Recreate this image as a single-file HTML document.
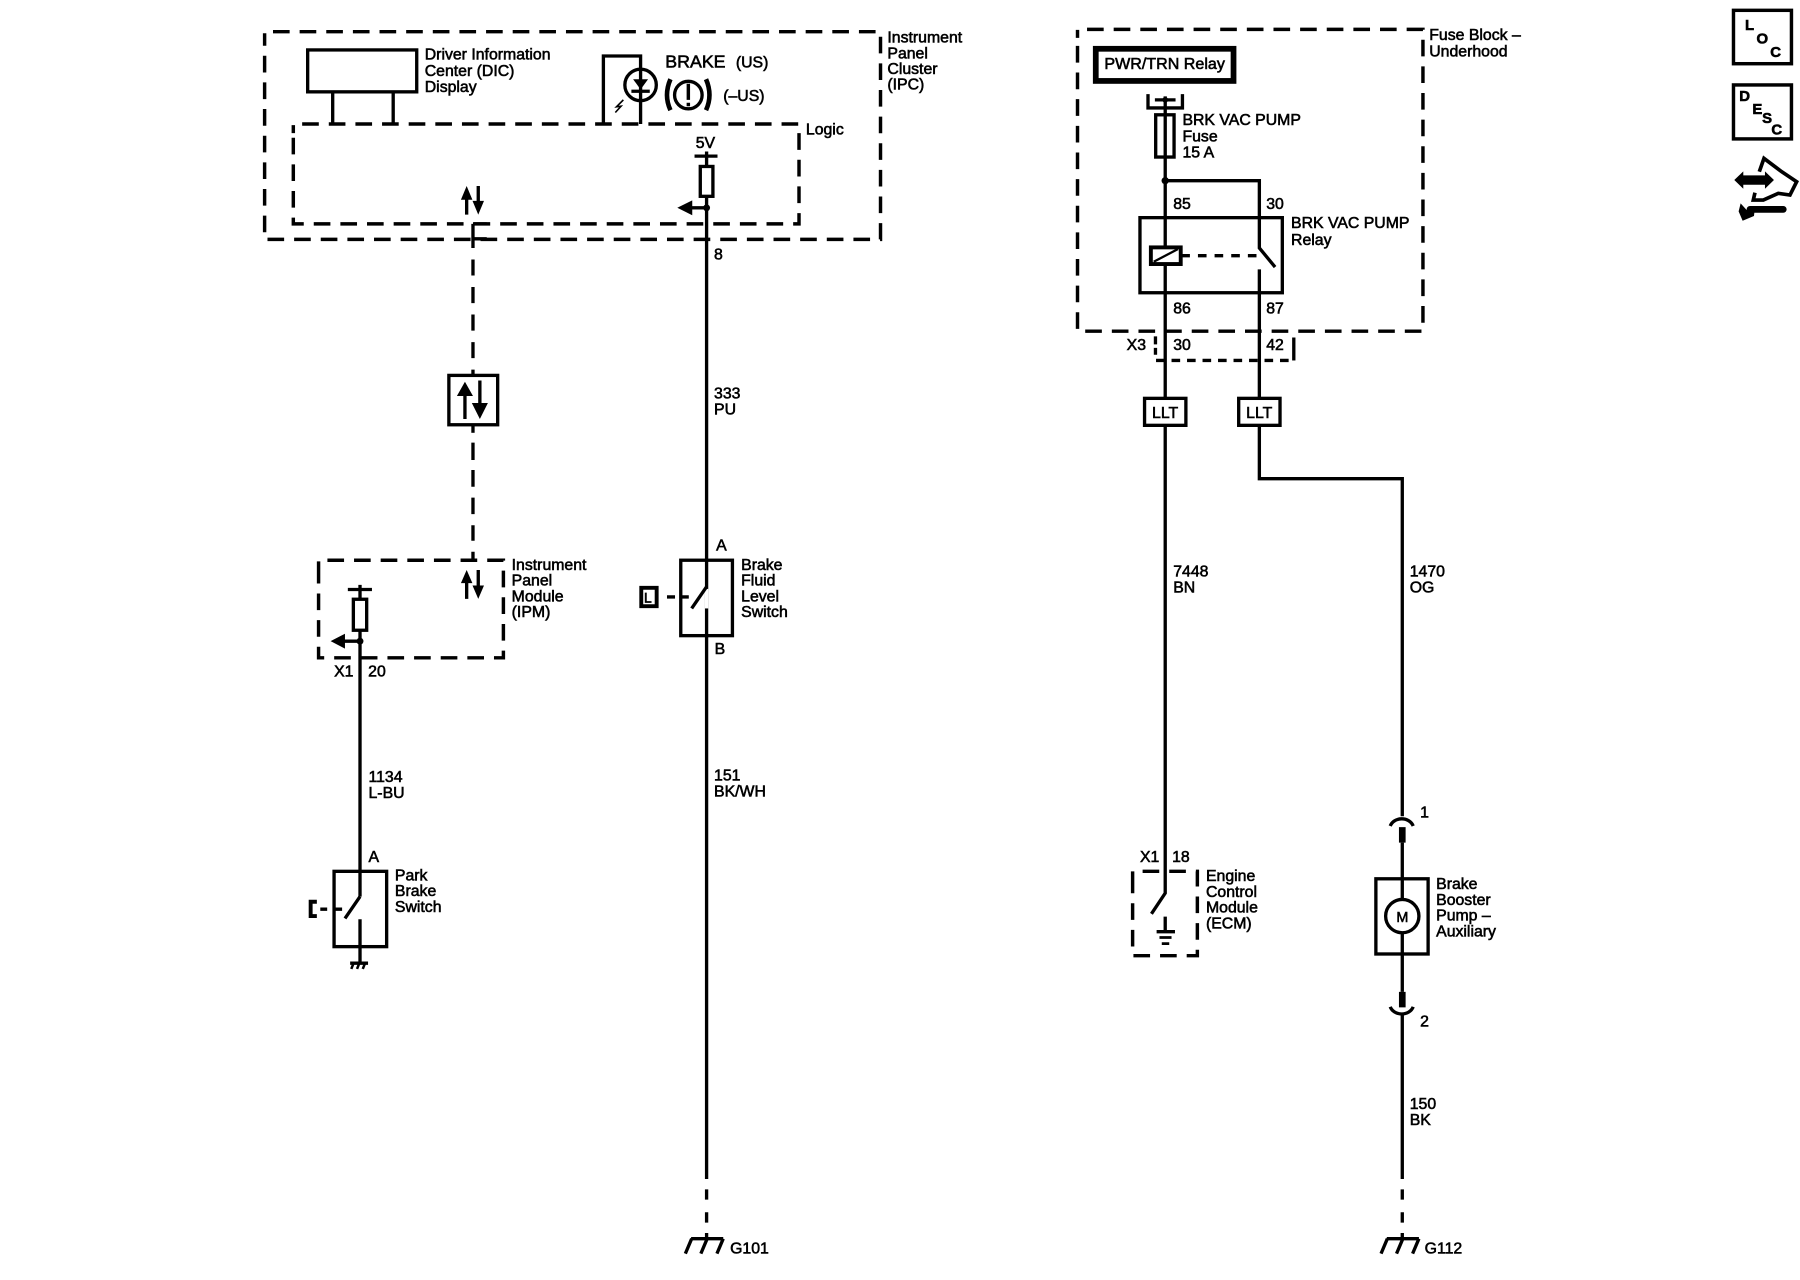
<!DOCTYPE html>
<html><head><meta charset="utf-8"><title>Brake wiring diagram</title>
<style>
html,body{margin:0;padding:0;background:#fff;width:1800px;height:1280px;overflow:hidden}
svg{display:block}
text{font-family:"Liberation Sans",sans-serif;font-size:13.8px;fill:#000;stroke:#000;stroke-width:.5}
.w{fill:none;stroke:#000;stroke-width:2.9}
.d{fill:none;stroke:#000;stroke-width:3;stroke-dasharray:14.5 8.7}
.f{fill:#000;stroke:none}
</style></head><body>
<svg width="1800" height="1280" viewBox="0 0 1800 1280" xmlns="http://www.w3.org/2000/svg">
<rect width="1800" height="1280" fill="#fff"/>
<g transform="scale(1.148)">
<!-- IPC box -->
<path class="d" stroke-dashoffset="7.5" d="M230.5,36 V27.6 H767 V208.5 H230.5 V36"/>
<!-- Logic box -->
<path class="d" stroke-dashoffset="7.5" d="M255.5,116 V108 H696 V195 H255.5 V116"/>
<!-- DIC -->
<rect class="w" x="268" y="43.5" width="95" height="36.5"/>
<path class="w" d="M289.8,80V108M342.5,80V108"/>
<!-- Brake lamp -->
<path class="w" d="M525.6,108V48.8H558V108"/>
<circle class="w" cx="558" cy="74" r="13.7"/>
<path class="f" d="M551.5,69H564.5L558,78Z"/>
<path class="w" d="M550,79.5H566"/>
<path class="w" style="stroke-width:1.4" d="M543,87L537,93L541,92.5L536,98"/>
<circle class="w" cx="599.6" cy="82.8" r="12"/>
<path class="w" style="stroke-width:4" d="M584,69Q578,83 584,96M615,69Q621,83 615,96"/>
<path class="w" style="stroke-width:3" d="M599.6,73V87M599.6,89.5V92.5"/>
<text x="579.5" y="58.6" style="font-size:15.5px">BRAKE</text>
<text x="641" y="58.6">(US)</text>
<text x="630" y="88">(–US)</text>
<text x="370" y="52">Driver Information</text>
<text x="370" y="66">Center (DIC)</text>
<text x="370" y="80">Display</text>
<text x="773" y="37">Instrument</text>
<text x="773" y="51">Panel</text>
<text x="773" y="64.5">Cluster</text>
<text x="773" y="78">(IPC)</text>
<text x="702" y="117">Logic</text>
<text x="606" y="129">5V</text>
<!-- 5V pull-up + wire 8 -->
<path class="w" d="M605,136H625M615.5,132V145"/>
<rect class="w" x="610" y="145" width="11" height="26"/>
<path class="w" d="M615.5,171V1027"/>
<circle class="f" cx="615.5" cy="181" r="3"/>
<path class="w" d="M615,181H600"/>
<path class="f" d="M590,181L603,174.5V187.5Z"/>
<path class="w" d="M615.5,1036V1045M615.5,1056V1065M615.5,1074V1079"/>
<text x="622" y="226">8</text>
<text x="622" y="347">333</text>
<text x="622" y="361">PU</text>
<!-- IPC arrows -->
<path class="w" d="M406.5,172V187M416.6,162V178"/>
<path class="f" d="M406.5,162L401.5,174H411.5ZM416.6,187L411.6,175H421.6Z"/>
<!-- serial data dashed -->
<path class="w" d="M412,195V216M412,195H424M412,208H424"/>
<path class="w" d="M412,226V240M412,250V264M412,274V288M412,298V312M412,322V327"/>
<rect class="w" x="391" y="327" width="42.5" height="43"/>
<path class="w" d="M412,370V377"/>
<path class="w" d="M405,342V365M418,331.5V352"/>
<path class="f" d="M405,332.5L398,345H412ZM418,365L411,351H425Z"/>
<path class="w" d="M412,385.6V400.7M412,409.4V424M412,433.5V447.8M412,457.5V471M412,480.6V488"/>
<!-- IPM -->
<path class="d" stroke-dashoffset="7.5" d="M277.5,496V488H438.5V573H277.5V496"/>
<path class="w" d="M406.5,503V521.7M416.6,496.5V512"/>
<path class="f" d="M406.5,496.5L401.5,508H411.5ZM416.6,521.7L411.6,510H421.6Z"/>
<path class="w" d="M303,513.5H324M313.6,509.5V522"/>
<rect class="w" x="307.8" y="522" width="11.6" height="27"/>
<path class="w" d="M313.6,549V781"/>
<circle class="f" cx="313.6" cy="558.5" r="3"/>
<path class="w" d="M313,558.5H298"/>
<path class="f" d="M288,558.5L300.5,552V565Z"/>
<text x="445.7" y="496.5">Instrument</text>
<text x="445.7" y="510.2">Panel</text>
<text x="445.7" y="523.9">Module</text>
<text x="445.7" y="537.6">(IPM)</text>
<text x="291" y="589.5">X1</text>
<text x="320.7" y="589.5">20</text>
<text x="321" y="681">1134</text>
<text x="321" y="695">L-BU</text>
<text x="321" y="751">A</text>
<!-- Park Brake Switch -->
<rect class="w" x="291" y="759" width="45.8" height="65.6"/>
<path class="w" d="M313.6,781L300.5,800M313.6,800.7V839"/>
<path class="w" style="stroke-width:3.4" d="M276,785.5H270.6V798H276"/>
<path class="w" d="M279,792H285M292,792H298"/>
<path class="w" d="M305,839H320.6"/>
<path class="w" style="stroke-width:2.2" d="M308,839L306,844M313,839L311,844M318,839L316,844"/>
<text x="344" y="767">Park</text>
<text x="344" y="780.7">Brake</text>
<text x="344" y="794.5">Switch</text>
<!-- Brake Fluid Level Switch -->
<rect class="w" x="593" y="488" width="45" height="65.7"/>
<rect x="614" y="513" width="3" height="17" fill="#fff"/>
<path class="w" d="M615.5,511L602.5,530"/>
<path class="w" style="stroke-width:3.4" d="M558.6,512H572V528H558.6Z"/>
<text x="561" y="525" style="font-size:12px;stroke-width:.6">L</text>
<path class="w" d="M581,520H588M593,520H600"/>
<text x="623.8" y="479.5">A</text>
<text x="622.5" y="569.7">B</text>
<text x="645.6" y="496.5">Brake</text>
<text x="645.6" y="510.2">Fluid</text>
<text x="645.6" y="523.9">Level</text>
<text x="645.6" y="537.6">Switch</text>
<text x="622" y="680">151</text>
<text x="622" y="694">BK/WH</text>
<!-- G101 -->
<path class="w" d="M602,1079H630M602.5,1079L597,1092M616,1079L610.5,1092M630,1079L624.5,1092"/>
<text x="636" y="1092">G101</text>

<!-- Fuse block -->
<path class="d" stroke-dashoffset="7.5" d="M938.6,33V25.6H1239.5V288.5H938.6V33"/>
<text x="1245" y="35">Fuse Block –</text>
<text x="1245" y="49">Underhood</text>
<rect x="954.5" y="42.5" width="120" height="28" fill="none" stroke="#000" stroke-width="5"/>
<text x="962" y="60" style="font-size:14px">PWR/TRN Relay</text>
<path class="w" d="M1000,82V94H1030V82"/>
<path class="w" d="M1006,87H1024M1015,84V100"/>
<circle class="f" cx="1015" cy="87" r="2.5"/>
<rect class="w" x="1006.7" y="100" width="16" height="36.8"/>
<path class="w" d="M1015,100V346"/>
<circle class="f" cx="1015" cy="157.4" r="3.2"/>
<path class="w" d="M1015,157.4H1097V216L1110.7,232.6M1097,234.6V346"/>
<text x="1030" y="109">BRK VAC PUMP</text>
<text x="1030" y="123.4">Fuse</text>
<text x="1030" y="137">15 A</text>
<rect class="w" x="993" y="189.6" width="124" height="65.4"/>
<rect class="w" x="1002.5" y="215.5" width="26" height="14.5" style="fill:#fff;stroke-width:3.4"/>
<path class="w" style="stroke-width:2" d="M1005,228L1026,217"/>
<path d="M1029,222.7H1095" fill="none" stroke="#000" stroke-width="2.9" stroke-dasharray="7.5 7"/>
<text x="1022" y="182">85</text>
<text x="1103" y="182">30</text>
<text x="1124.6" y="198.7">BRK VAC PUMP</text>
<text x="1124.6" y="213.4">Relay</text>
<text x="1022" y="273">86</text>
<text x="1103" y="273">87</text>
<text x="981.4" y="305">X3</text>
<text x="1022" y="305">30</text>
<text x="1103" y="305">42</text>
<path class="w" d="M1006.5,293V300M1006.5,303V309"/>
<path class="w" stroke-dasharray="7.5 6" d="M1007,314H1127"/>
<path class="w" d="M1127,294V314"/>
<rect class="w" x="997" y="347" width="36" height="23.5"/>
<rect class="w" x="1079" y="347" width="36" height="23.5"/>
<text x="1003.5" y="364">LLT</text>
<text x="1085.5" y="364">LLT</text>
<path class="w" d="M1015,370.5V778L1003,796"/>
<path class="w" d="M1097,370.5V417H1221.5V711"/>
<text x="1022" y="502">7448</text>
<text x="1022" y="516">BN</text>
<text x="1228" y="502">1470</text>
<text x="1228" y="516">OG</text>
<!-- ECM -->
<path class="d" stroke-dashoffset="7.5" d="M986.6,766V759H1043V832.5H986.6V766"/>
<path class="w" d="M1015,798.5V811.6M1007.5,811.6H1023.5"/>
<path class="w" style="stroke-width:2.4" d="M1010,816.6H1020.5M1012,822H1018.5"/>
<text x="993" y="751">X1</text>
<text x="1021" y="751">18</text>
<text x="1050.5" y="767.5">Engine</text>
<text x="1050.5" y="781.2">Control</text>
<text x="1050.5" y="794.9">Module</text>
<text x="1050.5" y="808.6">(ECM)</text>
<!-- Motor -->
<text x="1237" y="712">1</text>
<path class="w" d="M1211,719.5A10.5,9 0 0 1 1231,719.5"/>
<rect class="f" x="1218.6" y="720.5" width="5.8" height="13.5"/>
<path class="w" d="M1221.5,734V864"/>
<rect class="w" x="1198.5" y="765.5" width="45.5" height="65.5"/>
<circle class="w" cx="1221.5" cy="798" r="14.5" style="fill:#fff"/>
<text x="1216.3" y="803" style="font-size:12.5px">M</text>
<rect class="f" x="1218.6" y="864" width="5.8" height="13.5"/>
<path class="w" d="M1211,877A10.5,9 0 0 0 1231,877"/>
<path class="w" d="M1221.5,884V1027M1221.5,1036V1045M1221.5,1056V1065M1221.5,1074V1079"/>
<text x="1237" y="894">2</text>
<text x="1251" y="774.5">Brake</text>
<text x="1251" y="788.2">Booster</text>
<text x="1251" y="801.9">Pump –</text>
<text x="1251" y="815.6">Auxiliary</text>
<text x="1228" y="966">150</text>
<text x="1228" y="980">BK</text>
<!-- G112 -->
<path class="w" d="M1208,1079H1236M1208.5,1079L1203,1092M1222,1079L1216.5,1092M1236,1079L1230.5,1092"/>
<text x="1241" y="1092">G112</text>

<!-- Top-right icons -->
<rect x="1510" y="9" width="50.5" height="46.5" fill="none" stroke="#000" stroke-width="3"/>
<rect x="1510" y="74" width="50.5" height="47" fill="none" stroke="#000" stroke-width="3"/>
<text x="1520" y="26" style="font-weight:bold;font-size:13px">L</text>
<text x="1530" y="38" style="font-weight:bold;font-size:13px">O</text>
<text x="1542" y="49.5" style="font-weight:bold;font-size:13px">C</text>
<text x="1515" y="88" style="font-weight:bold;font-size:13px">D</text>
<text x="1526.5" y="99.3" style="font-weight:bold;font-size:13px">E</text>
<text x="1535" y="107" style="font-weight:bold;font-size:13px">S</text>
<text x="1543" y="117" style="font-weight:bold;font-size:13px">C</text>
<g transform="translate(1480.8,0) scale(0.2904)">
<path d="M178,515L192,475L245,515L290,545L270,585L235,580L190,600L160,600L165,578" fill="none" stroke="#000" stroke-width="11"/>
<path d="M103,540L130,514V526H195V514L222,540L195,566V554H130V566Z" fill="#000"/>
<path d="M150,628H250" stroke="#000" stroke-width="20" stroke-linecap="round" fill="none"/>
<path d="M122,610L116,634L128,662L162,648L165,622L140,630Z" fill="#000"/>
</g>
</g>
</svg>
</body></html>
